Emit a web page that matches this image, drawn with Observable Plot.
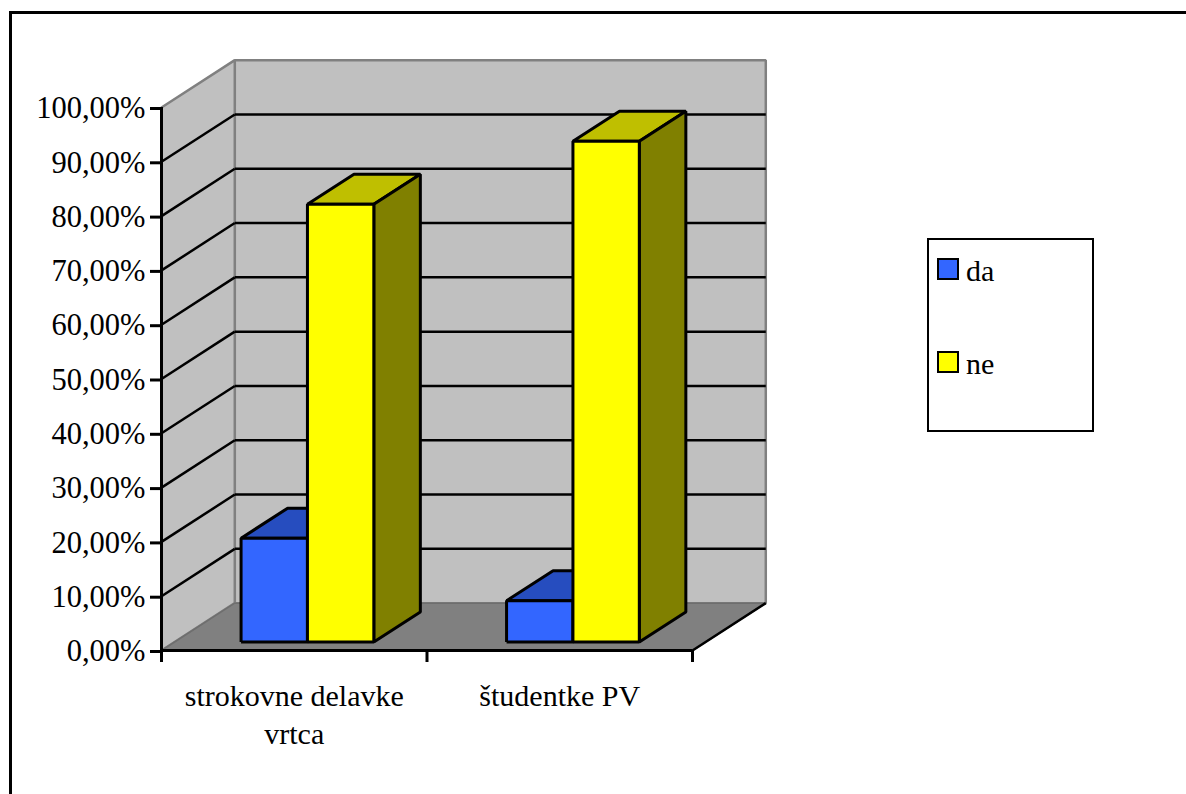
<!DOCTYPE html>
<html>
<head>
<meta charset="utf-8">
<script src="https://cdn.jsdelivr.net/npm/d3@7"></script>
<script src="https://cdn.jsdelivr.net/npm/@observablehq/plot@0.6"></script>
<style>
  html, body { margin: 0; padding: 0; background: #fff; }
  #page { position: relative; width: 1186px; height: 794px; overflow: hidden; font-family: "Liberation Serif", serif; color: #000; }
  #frame { position: absolute; left: 9px; top: 11px; width: 1300px; height: 900px; border: 3px solid #000; box-sizing: border-box; pointer-events: none; }
  #legend { position: absolute; left: 927px; top: 238px; width: 167px; height: 194px; border: 2px solid #000; box-sizing: border-box; background: #fff; }
  .entry { position: absolute; left: 8px; display: flex; align-items: center; font-size: 30px; line-height: 30px; }
  .swatch { width: 22px; height: 22px; border: 2.5px solid #000; box-sizing: border-box; margin-right: 7px; margin-top: -5px; }
</style>
</head>
<body>
<div id="page"><div id="frame"></div><div id="legend"></div></div>
<script>
const categories = ["strokovne delavke\nvrtca", "študentke PV"];
const seriesNames = ["da", "ne"];
const da = [19.1, 7.6];
const ne = [80.6, 92.2];
const yTicks = [0, 10, 20, 30, 40, 50, 60, 70, 80, 90, 100];
const xTicks = [0, 1, 2];
const frontColors = ["#3366ff", "#ffff00"];
const topColors = ["#264dbf", "#bfbf00"];
const sideColors = ["#1a3380", "#808000"];

// Oblique projection: depth 0 is the front of the box, depth 1 the back wall.
const depthX = 0.276, depthY = 8.72;
const P = (cat, value, depth = 0) => [cat + depth * depthX, value + depth * depthY];
const face = (points, fill, stroke = "#000", strokeWidth = 3) =>
  Plot.line([...points, points[0]], {
    x: d => d[0], y: d => d[1], fill, stroke, strokeWidth,
    strokeLinejoin: "miter", strokeLinecap: "butt"
  });
const segment = (a, b, stroke = "#000", strokeWidth = 2.5) =>
  Plot.line([a, b], { x: d => d[0], y: d => d[1], stroke, strokeWidth, strokeLinecap: "butt" });

const yMax = 100, xMax = 2;
const marks = [
  // walls and floor
  face([P(0, 0, 1), P(xMax, 0, 1), P(xMax, yMax, 1), P(0, yMax, 1)], "#c0c0c0", "#808080", 2.5),
  face([P(0, 0, 0), P(0, 0, 1), P(0, yMax, 1), P(0, yMax, 0)], "#c0c0c0", "#808080", 2.5),
  face([P(0, 0, 0), P(xMax, 0, 0), P(xMax, 0, 1), P(0, 0, 1)], "#808080", "#6e6e6e", 1.5)
];
// gridlines on both walls
for (const v of yTicks.slice(1, -1)) {
  marks.push(segment(P(0, v, 0), P(0, v, 1)));
  marks.push(segment(P(0, v, 1), P(xMax, v, 1), "#000", 2.5));
}
// bars
const barFront = 0.18, barBack = 0.815, barWidth = 0.25;
[da, ne].forEach((series, s) => {
  series.forEach((value, c) => {
    const x0 = c + 0.25 + s * barWidth, x1 = x0 + barWidth;
    marks.push(face([P(x0, value, barFront), P(x1, value, barFront), P(x1, value, barBack), P(x0, value, barBack)], topColors[s]));
    marks.push(face([P(x1, 0, barFront), P(x1, 0, barBack), P(x1, value, barBack), P(x1, value, barFront)], sideColors[s]));
    marks.push(face([P(x0, 0, barFront), P(x1, 0, barFront), P(x1, value, barFront), P(x0, value, barFront)], frontColors[s]));
  });
});
// axes
marks.push(segment(P(xMax, 0, 0), P(xMax, 0, 1)));
marks.push(Plot.ruleX([0], { y1: 0, y2: 100, stroke: "#000", strokeWidth: 3 }));
marks.push(Plot.ruleY([0], { stroke: "#000", strokeWidth: 3 }));
marks.push(Plot.axisY({
  ticks: yTicks, tickSize: 11, tickPadding: 5, stroke: "#000", strokeWidth: 3, fill: "#000",
  fontSize: 30.5, label: null, textAnchor: "end", dy: 1,
  tickFormat: d => d.toFixed(2).replace(".", ",") + "%"
}));
marks.push(Plot.axisX({ ticks: xTicks, tickSize: 12, stroke: "#000", strokeWidth: 3, fill: "none", label: null }));
marks.push(Plot.text(categories, {
  x: (d, i) => i + 0.5, y: () => 0, text: d => d, lineAnchor: "top", lineHeight: 1.27,
  dy: 28, fontSize: 30, fill: "#000", textAnchor: "middle"
}));

const chart = Plot.plot({
  width: 1186, height: 794,
  marginLeft: 161, marginRight: 494, marginTop: 107, marginBottom: 144,
  x: { domain: [0, 2] },
  y: { domain: [0, 100] },
  style: { fontFamily: "'Liberation Serif', serif", background: "transparent", overflow: "visible" },
  marks
});
const page = document.getElementById("page");
chart.style.position = "absolute";
chart.style.left = "0";
chart.style.top = "0";
page.insertBefore(chart, page.firstChild);

const legend = document.getElementById("legend");
const entryTops = [16, 109];
seriesNames.forEach((name, i) => {
  const row = document.createElement("div");
  row.className = "entry";
  row.style.top = entryTops[i] + "px";
  const sw = document.createElement("span");
  sw.className = "swatch";
  sw.style.background = frontColors[i];
  const label = document.createElement("span");
  label.textContent = name;
  row.append(sw, label);
  legend.append(row);
});
</script>
</body>
</html>
